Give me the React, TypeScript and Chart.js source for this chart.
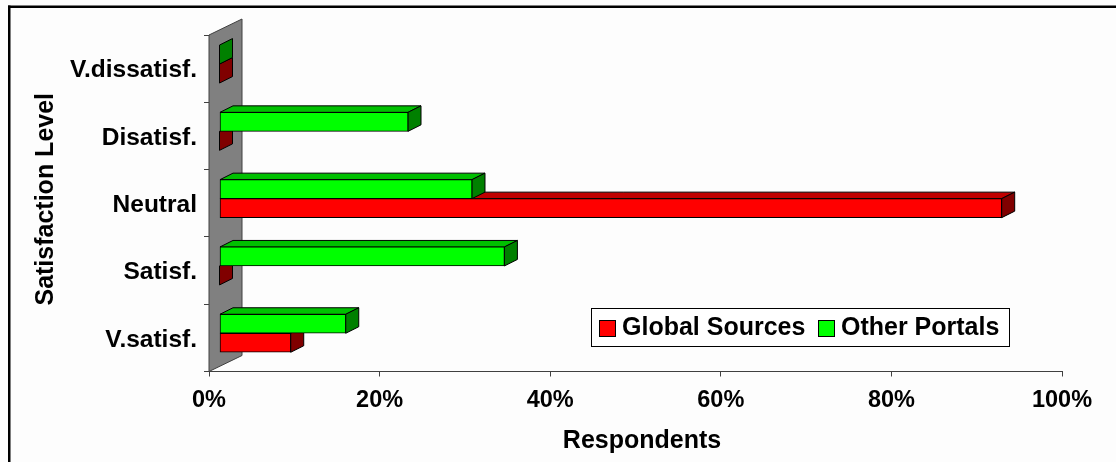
import React, { useEffect, useRef } from "react";
import { Chart, registerables } from "chart.js";

Chart.register(...registerables);

const categories = ["V.dissatisf.", "Disatisf.", "Neutral", "Satisf.", "V.satisf."];
const otherPortals = [0, 22.1, 29.6, 33.4, 14.8];
const globalSources = [0, 0, 91.7, 0, 8.35];
const xTicks = [0, 20, 40, 60, 80, 100];
const legendOrder = ["Global Sources", "Other Portals"];

const FONT = '"Liberation Sans", Arial, sans-serif';
const WALL_DX = 33;
const WALL_DY = -16;
const BAR_SHIFT_X = 10.5;
const BAR_SHIFT_Y = -4.6;
const BAR_DX = 13;
const BAR_DY = -6.5;
const LINE = "#404040";

const shades: Record<string, { top: string; side: string }> = {
  "Global Sources": { top: "#C00000", side: "#800000" },
  "Other Portals": { top: "#00C000", side: "#008000" },
};

const poly = (ctx: CanvasRenderingContext2D, pts: number[][], fill: string, stroke = "#000") => {
  ctx.beginPath();
  pts.forEach(([x, y], i) => (i ? ctx.lineTo(x, y) : ctx.moveTo(x, y)));
  ctx.closePath();
  ctx.fillStyle = fill;
  ctx.fill();
  ctx.lineWidth = 1;
  ctx.strokeStyle = stroke;
  ctx.stroke();
};

const shiftTitle = (s: any, dx: number, dy: number) => {
  const draw = s.drawTitle;
  s.drawTitle = function () {
    s.ctx.save();
    s.ctx.translate(dx, dy);
    draw.call(s);
    s.ctx.restore();
  };
};

const scene = {
  id: "scene",
  beforeDraw(chart: any) {
    const { ctx, width, height } = chart;
    ctx.save();
    ctx.fillStyle = "#FDFDFD";
    ctx.fillRect(0, 0, width, height);
    ctx.fillStyle = "#000";
    ctx.fillRect(8, 5.5, width - 8, 2.5);
    ctx.fillRect(8, 5.5, 2.5, height - 5.5);
    ctx.restore();
  },
  beforeDatasetsDraw(chart: any) {
    const { ctx, chartArea: a } = chart;
    ctx.save();
    poly(
      ctx,
      [
        [a.left, a.top],
        [a.left + WALL_DX, a.top + WALL_DY],
        [a.left + WALL_DX, a.bottom + WALL_DY],
        [a.left, a.bottom],
      ],
      "#808080",
      LINE
    );
    ctx.restore();
  },
  beforeDatasetDraw(chart: any, args: any) {
    const { ctx } = chart;
    const label = chart.data.datasets[args.index].label;
    const c = shades[label];
    ctx.save();
    ctx.translate(BAR_SHIFT_X, BAR_SHIFT_Y);
    args.meta.data.forEach((bar: any) => {
      const { x, y, base, height } = bar.getProps(["x", "y", "base", "height"], true);
      const t = y - height / 2;
      const b = y + height / 2;
      if (x > base) {
        poly(ctx, [[base, t], [base + BAR_DX, t + BAR_DY], [x + BAR_DX, t + BAR_DY], [x, t]], c.top);
      }
      poly(ctx, [[x, t], [x + BAR_DX, t + BAR_DY], [x + BAR_DX, b + BAR_DY], [x, b]], c.side);
    });
  },
  afterDatasetDraw(chart: any) {
    chart.ctx.restore();
  },
  afterDraw(chart: any) {
    const { ctx } = chart;
    ctx.save();
    ctx.fillStyle = "#FFFFFF";
    ctx.strokeStyle = "#000";
    ctx.lineWidth = 1;
    ctx.fillRect(591.5, 308.5, 418, 38);
    ctx.strokeRect(591.5, 308.5, 418, 38);
    ctx.font = `bold 25px ${FONT}`;
    ctx.textBaseline = "middle";
    const swatchX = [599.5, 818.5];
    const textX = [622, 841];
    legendOrder.forEach((label, i) => {
      const ds = chart.data.datasets.find((d: any) => d.label === label);
      ctx.fillStyle = ds.backgroundColor;
      ctx.fillRect(swatchX[i], 320.5, 16, 16);
      ctx.strokeRect(swatchX[i], 320.5, 16, 16);
      ctx.fillStyle = "#000";
      ctx.fillText(label, textX[i], 328);
    });
    ctx.restore();
  },
};

export default function App() {
  const ref = useRef<HTMLCanvasElement>(null);
  useEffect(() => {
    const chart = new Chart(ref.current!, {
      type: "bar",
      data: {
        labels: categories,
        datasets: [
          {
            label: "Other Portals",
            data: otherPortals,
            backgroundColor: "#00FF00",
            borderColor: "#000",
            borderWidth: 1,
            borderSkipped: false,
            barThickness: 19,
            clip: false,
          },
          {
            label: "Global Sources",
            data: globalSources,
            backgroundColor: "#FF0000",
            borderColor: "#000",
            borderWidth: 1,
            borderSkipped: false,
            barThickness: 19,
            clip: false,
          },
        ],
      } as any,
      plugins: [scene],
      options: {
        indexAxis: "y",
        animation: false,
        responsive: false,
        layout: { padding: { left: 31, right: 54, top: 35, bottom: 0 } },
        plugins: { legend: { display: false }, tooltip: { enabled: false } },
        scales: {
          x: {
            min: 0,
            max: 100,
            afterBuildTicks: (s: any) => {
              s.ticks = xTicks.map((value) => ({ value }));
              shiftTitle(s, 6.5, 0);
            },
            afterFit: (s: any) => {
              s.height = 90.5;
            },
            grid: { display: true, drawOnChartArea: false, color: LINE, tickLength: 5, tickColor: LINE },
            border: { color: LINE },
            ticks: {
              color: "#000",
              font: { family: FONT, weight: "bold", size: 23.5 },
              padding: 10,
              maxRotation: 0,
              callback: (v: any) => `${v}%`,
            },
            title: {
              display: true,
              text: "Respondents",
              color: "#000",
              font: { family: FONT, weight: "bold", size: 25 },
              padding: { top: 6, bottom: 6 },
            },
          },
          y: {
            type: "category",
            offset: true,
            afterBuildTicks: (s: any) => {
              shiftTitle(s, 0, -2);
            },
            afterFit: (s: any) => {
              s.width = 178;
            },
            grid: { display: true, offset: true, drawOnChartArea: false, color: LINE, tickLength: 5, tickColor: LINE },
            border: { color: LINE },
            ticks: {
              color: "#000",
              font: { family: FONT, weight: "bold", size: 24.5 },
              padding: 7,
              labelOffset: 2,
              autoSkip: false,
            },
            title: {
              display: true,
              text: "Satisfaction Level",
              color: "#000",
              font: { family: FONT, weight: "bold", size: 25 },
              padding: 0,
            },
          },
        },
      } as any,
    });
    return () => chart.destroy();
  }, []);
  return (
    <div style={{ position: "fixed", left: 0, top: 0, width: 1116, height: 462 }}>
      <canvas ref={ref} width={1116} height={462} style={{ display: "block" }} />
    </div>
  );
}
